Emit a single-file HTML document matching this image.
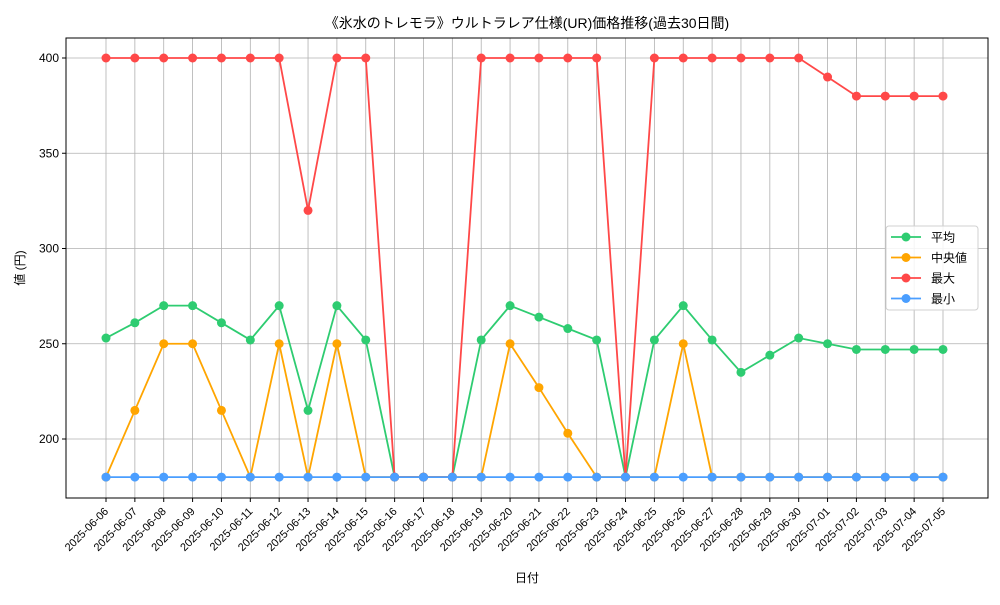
<!DOCTYPE html>
<html><head><meta charset="utf-8"><style>
body{margin:0;background:#fff;font-family:"Liberation Sans","Noto Sans CJK JP",sans-serif;}
</style></head><body>
<svg id="chart" width="1000" height="600" xmlns="http://www.w3.org/2000/svg" font-family="Liberation Sans, Noto Sans CJK JP, sans-serif">
<text x="527" y="28" text-anchor="middle" font-size="14">《氷水のトレモラ》ウルトラレア仕様(UR)価格推移(過去30日間)</text>
<g id="grid"></g><g id="axes"></g><g id="series"></g>
<text x="527" y="582" text-anchor="middle" font-size="12">日付</text>
<text transform="translate(24,268) rotate(-90)" text-anchor="middle" font-size="12">値 (円)</text>
<g id="legend"></g>
</svg>
<script>
const dates=["2025-06-06","2025-06-07","2025-06-08","2025-06-09","2025-06-10","2025-06-11","2025-06-12","2025-06-13","2025-06-14","2025-06-15","2025-06-16","2025-06-17","2025-06-18","2025-06-19","2025-06-20","2025-06-21","2025-06-22","2025-06-23","2025-06-24","2025-06-25","2025-06-26","2025-06-27","2025-06-28","2025-06-29","2025-06-30","2025-07-01","2025-07-02","2025-07-03","2025-07-04","2025-07-05"];
const avgValues=[253,261,270,270,261,252,270,215,270,252,180,180,180,252,270,264,258,252,180,252,270,252,235,244,253,250,247,247,247,247];
const medianValues=[180,215,250,250,215,180,250,180,250,180,180,180,180,180,250,227,203,180,180,180,250,180,180,180,180,180,180,180,180,180];
const maxValues=[400,400,400,400,400,400,400,320,400,400,180,180,180,400,400,400,400,400,180,400,400,400,400,400,400,390,380,380,380,380];
const minValues=[180,180,180,180,180,180,180,180,180,180,180,180,180,180,180,180,180,180,180,180,180,180,180,180,180,180,180,180,180,180];
const yTicks=[200,250,300,350,400];
const seriesNames=["平均","中央値","最大","最小"];
const NS="http://www.w3.org/2000/svg";
const L=66,R=988,T=38,B=498;
const x=i=>106+i*(943-106)/(dates.length-1);
const y=v=>439-(v-200)*(95.25/50);
function mk(tag,attrs,parent){const e=document.createElementNS(NS,tag);for(const k in attrs)e.setAttribute(k,attrs[k]);parent.appendChild(e);return e;}
const grid=document.getElementById('grid'),axes=document.getElementById('axes'),ser=document.getElementById('series'),leg=document.getElementById('legend');
dates.forEach((d,i)=>{
 const g=mk('line',{x1:x(i),x2:x(i),y1:T,y2:B,stroke:'#b0b0b0','stroke-width':0.8},grid);
 
 
 const t=mk('line',{x1:x(i),x2:x(i),y1:B,y2:B+4,stroke:'#000'},axes);
 
 
 const lb=mk('text',{x:x(i)+3,y:B+14,'text-anchor':'end','font-size':11,transform:`rotate(-45 ${x(i)+3} ${B+14})`},axes);
 lb.textContent=d;
 
 
});
yTicks.forEach(v=>{
 const g=mk('line',{x1:L,x2:R,y1:y(v),y2:y(v),stroke:'#b0b0b0','stroke-width':0.8},grid);
 
 
 const t=mk('line',{x1:L-4,x2:L,y1:y(v),y2:y(v),stroke:'#000'},axes);
 
 
 const lb=mk('text',{x:L-7,y:y(v)+4,'text-anchor':'end','font-size':12},axes);
 lb.textContent=v;
 
 
});
const frame=mk('rect',{x:L,y:T,width:R-L,height:B-T,fill:'none',stroke:'#000','stroke-width':1},axes);


const all=[avgValues,medianValues,maxValues,minValues];
const colors=['#2ecc71','#ffa500','#ff4848','#4a9eff'];
const keys=['avg','median','max','min'];
all.forEach((vals,s)=>{
 const g=mk('g',{},ser);
 
 
 const p=mk('polyline',{points:vals.map((v,i)=>x(i)+','+y(v)).join(' '),fill:'none',stroke:colors[s],'stroke-width':1.8},g);
 
 
 vals.forEach((v,i)=>{
  const c=mk('circle',{cx:x(i),cy:y(v),r:4.5,fill:colors[s]},g);
  
  
 });
});
const box=mk('rect',{x:886,y:226,width:92,height:84,rx:3,fill:'#fff','fill-opacity':0.85,stroke:'#d0d0d0'},leg);


seriesNames.forEach((n,s)=>{
 const g=mk('g',{},leg);
 
 
 const yy=237+s*20.5;
 mk('line',{x1:891,x2:921,y1:yy,y2:yy,stroke:colors[s],'stroke-width':1.8},g);
 mk('circle',{cx:906,cy:yy,r:4.5,fill:colors[s]},g);
 const t=mk('text',{x:931,y:yy+4.5,'font-size':12},g);
 t.textContent=n;
});
</script>
</body></html>
